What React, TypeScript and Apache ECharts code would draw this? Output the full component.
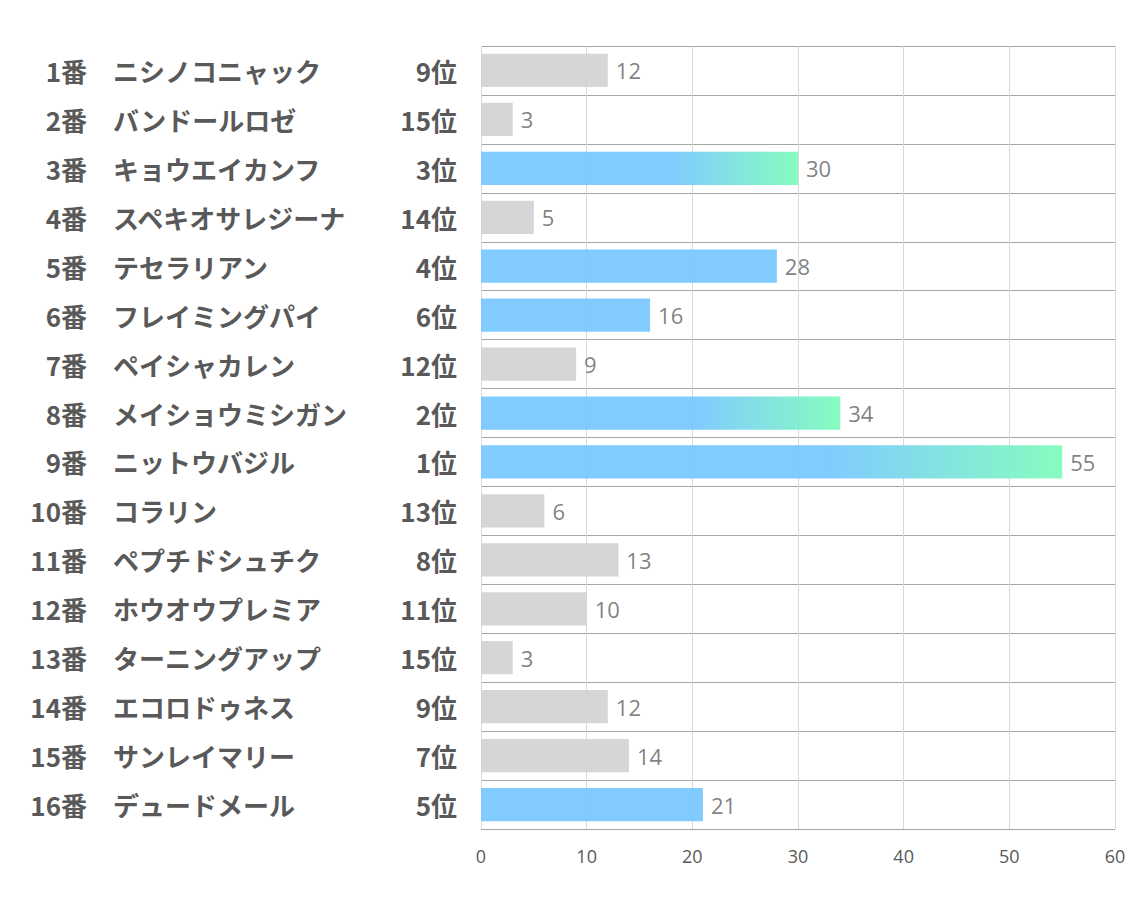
import React, { useEffect, useRef } from "react";
import * as echarts from "echarts";

const numbers = ["1番","2番","3番","4番","5番","6番","7番","8番","9番","10番","11番","12番","13番","14番","15番","16番"];
const names = ["ニシノコニャック","バンドールロゼ","キョウエイカンフ","スペキオサレジーナ","テセラリアン","フレイミングパイ","ペイシャカレン","メイショウミシガン","ニットウバジル","コラリン","ペプチドシュチク","ホウオウプレミア","ターニングアップ","エコロドゥネス","サンレイマリー","デュードメール"];
const ranks = [9, 15, 3, 14, 4, 6, 12, 2, 1, 13, 8, 11, 15, 9, 7, 5];
const values = [12, 3, 30, 5, 28, 16, 9, 34, 55, 6, 13, 10, 3, 12, 14, 21];
const xTicks = [0, 10, 20, 30, 40, 50, 60];

const BLUE = "rgb(118,199,255)";
const GREEN = "rgb(125,252,186)";
const GRAY = "rgb(210,210,210)";

export default function App() {
  const ref = useRef<HTMLDivElement>(null);
  useEffect(() => {
    const chart = echarts.init(ref.current!, undefined, { renderer: "svg" });
    const labelFont = '"Noto Sans CJK JP", sans-serif';
    const rankLabels = ranks.map((r) => r + "位");
    const colorFor = (r: number) => {
      if (r <= 3) {
        return new echarts.graphic.LinearGradient(0, 0, 1, 0, [
          { offset: 0, color: BLUE },
          { offset: 0.6, color: BLUE },
          { offset: 1, color: GREEN },
        ]);
      }
      if (r <= 6) return BLUE;
      return GRAY;
    };
    const baseYAxis = {
      type: "category" as const,
      inverse: true,
      axisLine: { show: false },
      axisTick: { show: false },
      splitLine: { show: false },
    };
    chart.setOption({
      animation: false,
      grid: { left: 481, right: 19, top: 46, bottom: 78, containLabel: false },
      xAxis: {
        type: "value",
        min: xTicks[0],
        max: xTicks[xTicks.length - 1],
        interval: 10,
        axisLine: { show: false },
        axisTick: { show: false },
        splitLine: { show: true, lineStyle: { color: "#d9d9d9", width: 1 } },
        axisLabel: { color: "#595959", fontSize: 18, margin: 18, fontFamily: '"Open Sans", sans-serif' },
      },
      yAxis: [
        {
          ...baseYAxis,
          data: rankLabels,
          splitLine: { show: true, lineStyle: { color: "#a6a6a6", width: 1 } },
          axisLabel: { color: "#595959", fontSize: 26, fontWeight: "bold", fontFamily: labelFont, margin: 24, align: "right" },
        },
        {
          ...baseYAxis,
          position: "left",
          data: names,
          axisLabel: { color: "#595959", fontSize: 26, fontWeight: "bold", fontFamily: labelFont, margin: 368, align: "left" },
        },
        {
          ...baseYAxis,
          position: "left",
          data: numbers,
          axisLabel: { color: "#595959", fontSize: 26, fontWeight: "bold", fontFamily: labelFont, margin: 394, align: "right" },
        },
      ],
      series: [
        {
          type: "bar",
          yAxisIndex: 0,
          barWidth: "68%",
          data: values.map((v, i) => ({
            value: v,
            itemStyle: { color: colorFor(ranks[i]), opacity: 0.92 },
          })),
          label: {
            show: true,
            position: "right",
            distance: 8,
            color: "#767676",
            fontSize: 22,
            fontFamily: '"Open Sans", sans-serif',
          },
        },
      ],
    });
    return () => chart.dispose();
  }, []);
  return <div ref={ref} style={{ position: "fixed", left: 0, top: 0, width: 1134, height: 907, background: "#fff" }} />;
}
